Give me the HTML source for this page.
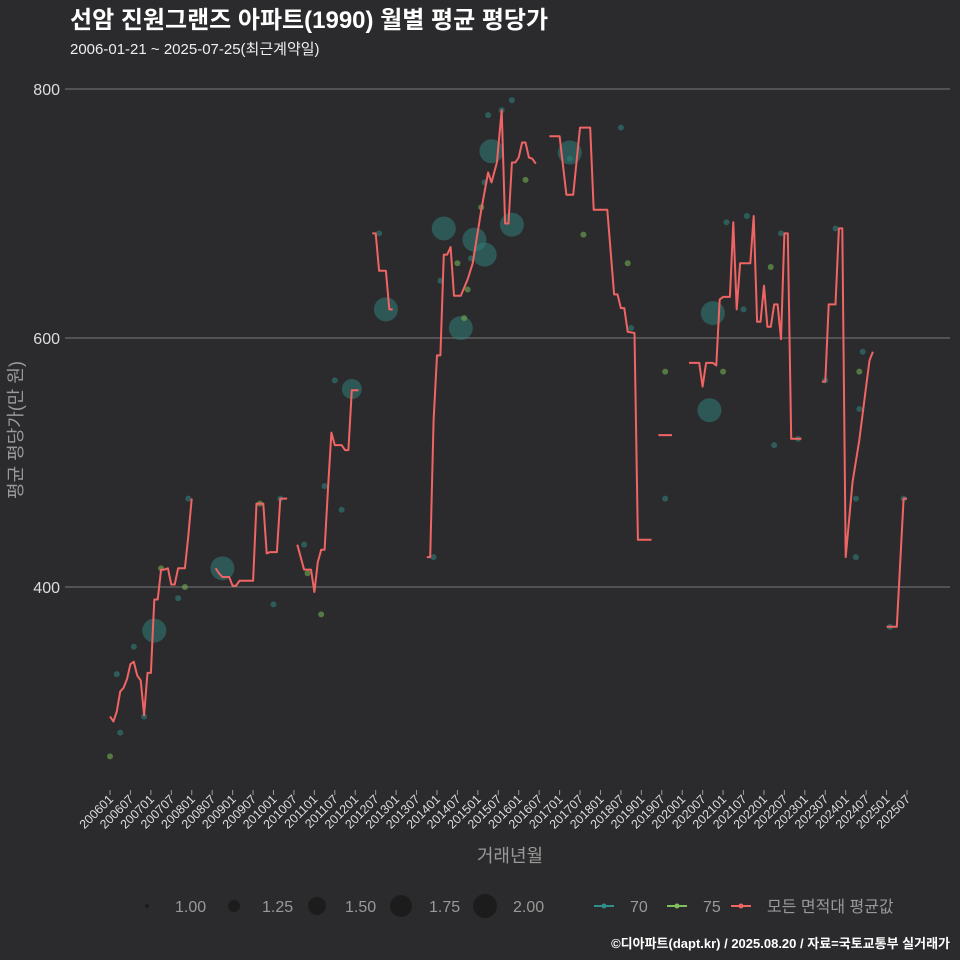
<!DOCTYPE html>
<html><head><meta charset="utf-8">
<style>
html,body{margin:0;padding:0;background:#2b2b2d;}
svg{display:block;font-family:"Liberation Sans","Noto Sans CJK KR",sans-serif;}
</style></head>
<body>
<svg id="chart" width="960" height="960" viewBox="0 0 960 960">
<rect width="960" height="960" fill="#2b2b2d"/>
<text x="70" y="28" fill="#ffffff" font-size="24" font-weight="bold">선암 진원그랜즈 아파트(1990) 월별 평균 평당가</text>
<text x="70" y="54" fill="#eeeeee" font-size="15">2006-01-21 ~ 2025-07-25(최근계약일)</text>
<g id="grid"></g>
<g id="yticks"></g>
<g id="xticks"></g>
<g id="dots"></g>
<g id="lines"></g>
<text x="510" y="862" fill="#999" font-size="18" text-anchor="middle">거래년월</text>
<text transform="translate(22,430) rotate(-90)" fill="#999" font-size="18" text-anchor="middle">평균 평당가(만 원)</text>
<g id="legend"></g>
<text x="950" y="948" fill="#ffffff" font-size="13" font-weight="bold" text-anchor="end">©디아파트(dapt.kr) / 2025.08.20 / 자료=국토교통부 실거래가</text>
</svg>
<script>
// month index from 2006-01
const yTicks = [400, 600, 800];
const xTickLabels = ["200601","200607","200701","200707","200801","200807","200901","200907","201001","201007","201101","201107","201201","201207","201301","201307","201401","201407","201501","201507","201601","201607","201701","201707","201801","201807","201901","201907","202001","202007","202101","202107","202201","202207","202301","202307","202401","202407","202501","202507"];
const avgMonths = [0,1,2,3,4,5,6,7,8,9,10,11,12,13,14,15,16,17,18,19,20,21,22,23,24,null,31,32,33,35,36,37,38,42,43,45,46,47,49,50,52,null,55,57,58,59,60,61,62,63,64,65,66,68,69,70,71,73,null,77,78,79,81,82,83,null,93,94,95,96,97,98,99,100,101,103,105,106.5,109,111,112,113.6,115,116,117,118,119,120,121,122,123,124,125,null,129,132,134,136,138,141,142,146,148,149,150,151,152,154,155,159,null,161,165,null,170,173,174,175,177,178,179,180,182,183,184,185,188,189,190,191,192,193,194,195,196,197,198,199,200,203,null,209,210,211,213,214,215,216,218,220,222,223,224,null,228,231,233,234];
const avgValues = [296,292,300,316,319,326,338,340,329,325,297,331,331,390,390,414,414,415,402,402,415,415,415,441,471,null,415,411,408,408,401,401,405,405,467,467,427,428,428,471,471,null,434,414,414,414,396,420,430,430,479,524,514,514,510,510,558,558,null,684,684,654,654,623,623,null,424,424,534,586,586,667,667,673,634,634,647,660,703,733,725,741,783,692,692,741,741,745,757,757,745,744,740,null,762,762,715,715,769,769,703,703,635,635,624,624,605,604,438,438,null,522,522,null,580,580,561,580,580,578,631,633,633,693,623,660,660,698,613,613,642,609,609,627,627,599,684,684,519,519,null,565,565,627,627,688,688,424,484,518,561,582,589,null,368,368,471,471];
const dotMonths = [13,33,81,71,98,103,107,110,112,118,135,177,176,0,3,2,7,10,15,20,22,23,44,48,50,57,58,62,66,68,63,79,95,97,102,104,105,106,109,110,111,115,118,122,135,139,150,152,153,163,163,180,181,186,187,194,195,197,202,210,213,219,219,220,221,220,229,233];
const dotValues = [365,415,623,559,688,608,679,667,750,691,749,620,542,264,283,330,352,296,415,391,400,471,467,386,471,434,411,378,566,462,481,684,424,646,660,616,639,664,705,725,779,783,791,727,744,683,769,660,608,573,471,573,693,623,698,657,514,684,519,566,688,424,471,573,589,543,368,471];
const dotSizes = [2,2,2,1.75,2,2,2,2,2,2,2,2,2,1,1,1,1,1,1,1,1,1,1,1,1,1,1,1,1,1,1,1,1,1,1,1,1,1,1,1,1,1,1,1,1,1,1,1,1,1,1,1,1,1,1,1,1,1,1,1,1,1,1,1,1,1,1,1];
const dotTypes = [70,70,70,70,70,70,70,70,70,70,70,70,70,75,70,70,70,70,75,70,75,70,75,70,70,70,75,75,70,70,70,70,70,70,75,75,75,70,75,70,70,70,70,75,70,75,70,75,70,75,70,75,70,70,70,75,70,70,70,70,70,70,70,75,70,70,70,70];

const NS = "http://www.w3.org/2000/svg";
const X0 = 110, MPX = 3.406, PL = 65, PR = 950;
function xs(m){ return X0 + m*MPX; }
function ys(v){ return 89 + (800 - v)*1.245; }
function mk(tag, attrs, parent){ const e=document.createElementNS(NS,tag); for(const k in attrs) e.setAttribute(k,attrs[k]); parent.appendChild(e); return e; }

const grid=document.getElementById('grid'), yt=document.getElementById('yticks'), xt=document.getElementById('xticks');
yTicks.forEach(v=>{
  const l=mk('line',{x1:PL,x2:PR,y1:ys(v),y2:ys(v),stroke:'#7a7a7a','stroke-width':1},grid);
  
  
  const t=mk('text',{x:60,y:ys(v)+6,fill:'#dddddd','font-size':16,'text-anchor':'end'},yt);
  t.textContent=v;
  
  
});
xTickLabels.forEach((lab,i)=>{
  const x=xs(i*6);
  const tk=mk('line',{x1:x,x2:x,y1:790,y2:795,stroke:'#999','stroke-width':1},xt);
  
  
  const t=mk('text',{transform:`translate(${x+4},${800}) rotate(-45)`,fill:'#dddddd','font-size':12.5,'text-anchor':'end'},xt);
  t.textContent=lab;
  
  
});

const dots=document.getElementById('dots');
const rMap={1:3,1.25:5.5,1.5:8,1.75:10,2:12};
dotMonths.forEach((m,i)=>{
  const big=dotSizes[i]>1;
  const fill=dotTypes[i]===70?'#2f7d78':'#6fae52';
  const c=mk('circle',{cx:xs(m),cy:ys(dotValues[i]),r:rMap[dotSizes[i]],fill:fill,'fill-opacity':big?0.55:0.6},dots);
  
  
});

const lines=document.getElementById('lines');
let d='', start=true;
avgMonths.forEach((m,i)=>{
  if(m===null){start=true;return;}
  d+=(start?'M':'L')+xs(m).toFixed(1)+','+ys(avgValues[i]).toFixed(1)+' ';
  start=false;
});
const p=mk('path',{d:d,fill:'none',stroke:'#f06464','stroke-width':2,'stroke-linejoin':'round'},lines);



const lg=document.getElementById('legend');
const sizes=[["1.00",2,147],["1.25",6,234],["1.50",9,317],["1.75",11,401],["2.00",12,485]];
sizes.forEach(s=>{
  const c=mk('circle',{cx:s[2],cy:906,r:s[1],fill:'#1c1c1c'},lg);
  
  
  const t=mk('text',{x:s[2]+28,y:912,fill:'#999','font-size':16},lg);
  t.textContent=s[0];
  
  
});
const series=[["70","#2f8f8a",594],["75","#7fc05c",667],["모든 면적대 평균값","#f06464",731]];
series.forEach(s=>{
  const l=mk('line',{x1:s[2],x2:s[2]+20,y1:906,y2:906,stroke:s[1],'stroke-width':2},lg);
  
  
  const c=mk('circle',{cx:s[2]+10,cy:906,r:2.5,fill:s[1]},lg);
  
  
  const t=mk('text',{x:s[2]+36,y:912,fill:'#999','font-size':16},lg);
  t.textContent=s[0];
  
  
});
</script>
</body></html>
